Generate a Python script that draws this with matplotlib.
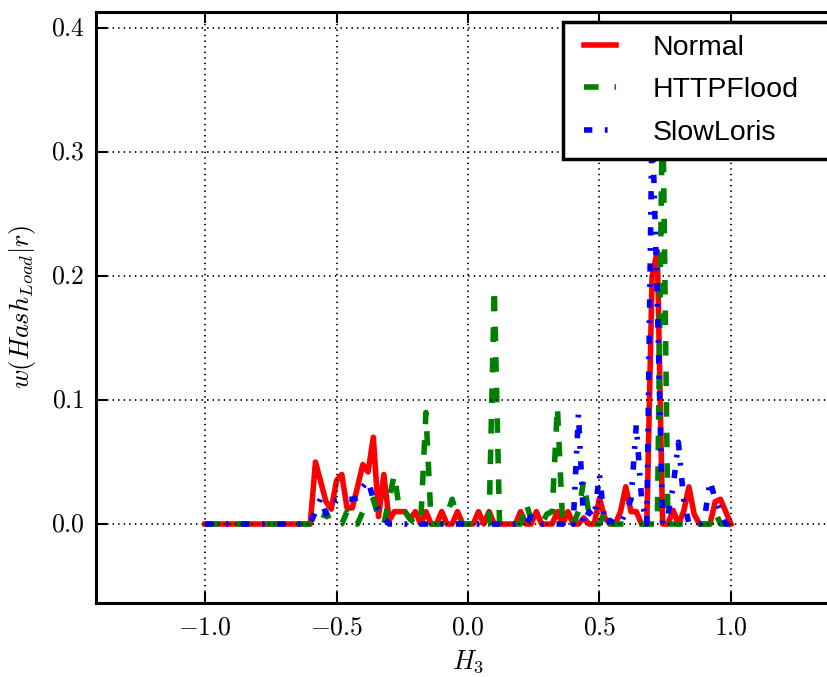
import numpy as np
import matplotlib
matplotlib.use("Agg")
import matplotlib.pyplot as plt
from matplotlib.ticker import FuncFormatter

plt.style.use("classic")
plt.rcParams["mathtext.fontset"] = "cm"

# sample positions of H_3 (step 0.02 from -1 to 1)
h3 = np.round(np.arange(-1.0, 1.0001, 0.02), 2)

normal = [
    0, 0, 0, 0, 0, 0, 0, 0, 0, 0,
    0, 0, 0, 0, 0, 0, 0, 0, 0, 0,
    0, 0.05, 0.034, 0.018, 0.012, 0.035, 0.04, 0.013, 0.013, 0.03,
    0.048, 0.042, 0.07, 0.006, 0.04, 0.003, 0.01, 0.01, 0.01, 0.004,
    0.01, 0, 0.01, 0, 0, 0.01, 0, 0, 0.01, 0,
    0, 0, 0.01, 0, 0.01, 0, 0, 0, 0, 0,
    0.01, 0, 0, 0.01, 0, 0, 0, 0.01, 0, 0.01,
    0, 0, 0.005, 0, 0, 0.021, 0.005, 0, 0, 0.01,
    0.03, 0.01, 0.01, 0, 0, 0.2, 0.22, 0, 0, 0.011,
    0, 0.01, 0.03, 0.008, 0, 0, 0, 0.018, 0.02, 0.01,
    0,
]

httpflood = [
    0, 0, 0, 0, 0, 0, 0, 0, 0, 0,
    0, 0, 0, 0, 0, 0, 0, 0, 0, 0,
    0, 0, 0, 0.01, 0, 0, 0, 0.01, 0, 0,
    0.01, 0.012, 0.02, 0.005, 0, 0.02, 0.04, 0.01, 0.01, 0.004,
    0, 0, 0.09, 0, 0, 0, 0.008, 0.02, 0.004, 0,
    0, 0, 0, 0, 0, 0.19, 0, 0, 0, 0,
    0, 0.017, 0.004, 0, 0, 0.008, 0.01, 0.095, 0, 0,
    0, 0.01, 0.035, 0.008, 0, 0, 0.01, 0, 0, 0,
    0, 0, 0, 0, 0, 0, 0, 0.35, 0, 0,
    0, 0, 0, 0, 0, 0, 0, 0.01, 0, 0,
    0,
]

slowloris = [
    0, 0, 0, 0, 0, 0, 0, 0, 0, 0,
    0, 0, 0, 0, 0, 0, 0, 0, 0, 0,
    0, 0.01, 0.021, 0.008, 0.012, 0.019, 0.02, 0.02, 0.02, 0.021,
    0.03, 0.035, 0.02, 0.011, 0.005, 0, 0, 0, 0, 0,
    0, 0, 0, 0, 0, 0, 0, 0, 0, 0,
    0, 0, 0, 0, 0, 0, 0, 0, 0, 0,
    0, 0, 0.006, 0, 0, 0, 0, 0, 0, 0.005,
    0, 0.089, 0, 0.01, 0.005, 0.04, 0, 0.003, 0, 0,
    0.01, 0.02, 0.08, 0.02, 0, 0.33, 0.18, 0, 0.007, 0.03,
    0.066, 0.02, 0, 0, 0, 0.005, 0.035, 0.02, 0.01, 0,
    0,
]

fig = plt.figure(figsize=(8.28, 6.77), dpi=100, facecolor="white")
ax = fig.add_axes([96 / 828, 74 / 677, 744 / 828, 591 / 677])

ax.plot(h3, normal, color="r", lw=4, ls="-", label="Normal")
ax.plot(h3, httpflood, color="g", lw=4, dashes=(10.5, 11.5), label="HTTPFlood")
ax.plot(h3, slowloris, color="b", lw=4, dashes=(6, 9, 2, 9), label="SlowLoris")

ax.set_xlim(-1.4146, 1.4146)
ax.set_ylim(-0.0637, 0.413)
ax.set_xticks([-1.0, -0.5, 0.0, 0.5, 1.0])
ax.set_yticks([0.0, 0.1, 0.2, 0.3, 0.4])
fmt = FuncFormatter(lambda v, p: r"$%.1f$" % v)
ax.xaxis.set_major_formatter(fmt)
ax.yaxis.set_major_formatter(fmt)
ax.tick_params(labelsize=18.5, width=1.5, length=8, pad=8)

ax.grid(True, color="k", ls=":", lw=1.3)
for s in ax.spines.values():
    s.set_linewidth(2.2)

ax.set_xlabel(r"$H_3$", fontsize=19, labelpad=6)
ax.set_ylabel(r"$w(Hash_{Load}|r)$", fontsize=19, labelpad=9)

# legend box runs past the right edge of the picture, as in the original
leg = ax.legend(loc="upper left", bbox_to_anchor=(563 / 828, 1 - 22 / 677, 280 / 828, 0),
                bbox_transform=fig.transFigure, borderaxespad=0, mode="expand",
                prop={"family": "Liberation Sans", "size": 20.5},
                borderpad=0.45, handlelength=1.7, handletextpad=1.0, labelspacing=0.58)
leg.get_frame().set_linewidth(2.5)
leg.get_frame().set_edgecolor("k")

fig.savefig("out.png", dpi=100, facecolor="white")
